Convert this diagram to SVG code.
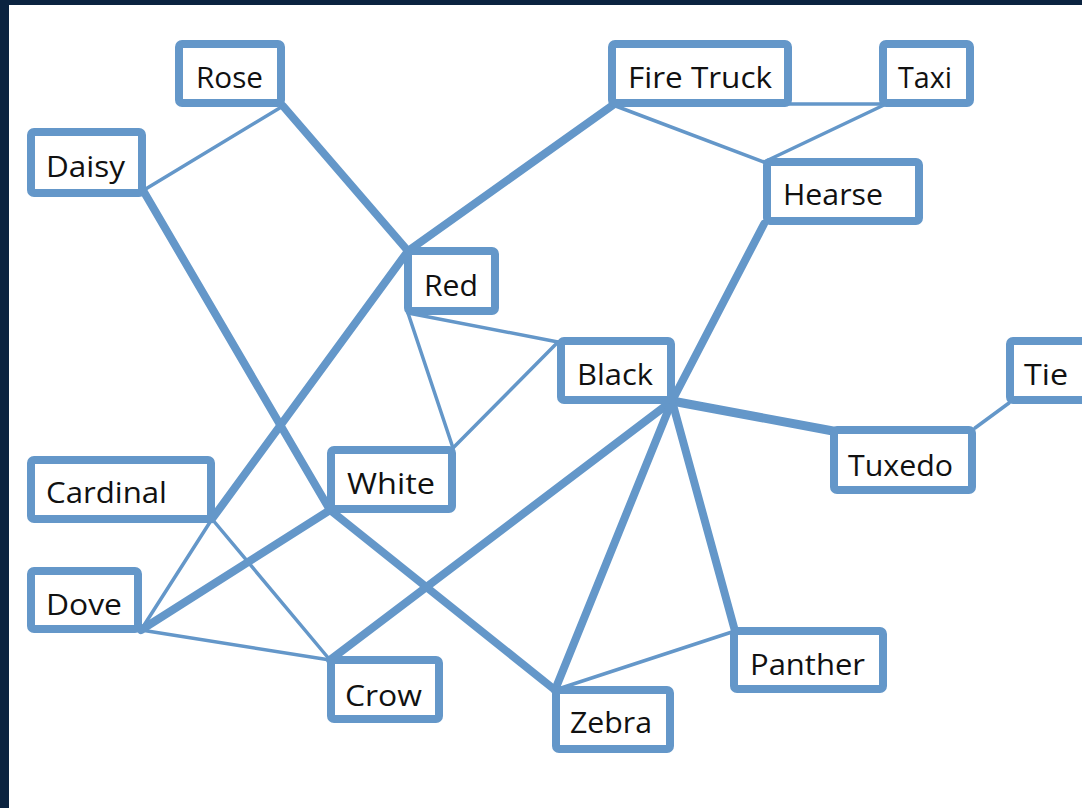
<svg xmlns="http://www.w3.org/2000/svg" width="1082" height="808" viewBox="0 0 1082 808">
<style>
.bg{fill:#0b2340}
.paper{fill:#ffffff}
.e{stroke:#6497c9;fill:none;stroke-linecap:round}
.thin{stroke-width:3.5}
.thick{stroke-width:8}
.box{fill:#ffffff;stroke:#6497c9;stroke-width:8}
.lbl{font-family:"Open Sans","Liberation Sans",sans-serif;font-size:30px;fill:#111111}
</style>
<rect class="bg" x="0" y="0" width="1082" height="808"/>
<rect class="paper" x="9" y="5" width="1073" height="803"/>
<g id="connectors">
<line class="e thin" x1="283" y1="106" x2="144" y2="190"/>
<line class="e thin" x1="613" y1="104" x2="884" y2="104"/>
<line class="e thin" x1="613" y1="105" x2="764" y2="162"/>
<line class="e thin" x1="884" y1="105" x2="764" y2="162"/>
<line class="e thin" x1="408" y1="313" x2="558" y2="342"/>
<line class="e thin" x1="408" y1="313" x2="453" y2="448"/>
<line class="e thin" x1="558" y1="342" x2="453" y2="448"/>
<line class="e thin" x1="212" y1="519" x2="141" y2="630"/>
<line class="e thin" x1="212" y1="519" x2="330" y2="660"/>
<line class="e thin" x1="141" y1="630" x2="330" y2="660"/>
<line class="e thin" x1="975" y1="428" x2="1009" y2="403"/>
<line class="e thin" x1="555" y1="690" x2="735" y2="631"/>
<line class="e thick" x1="283" y1="106" x2="408" y2="251"/>
<line class="e thick" x1="613" y1="105" x2="408" y2="251"/>
<line class="e thick" x1="408" y1="251" x2="212" y2="519"/>
<line class="e thick" x1="144" y1="192" x2="330" y2="510"/>
<line class="e thick" x1="330" y1="510" x2="555" y2="690"/>
<line class="e thick" x1="330" y1="510" x2="141" y2="630"/>
<line class="e thick" x1="330" y1="660" x2="672" y2="401"/>
<line class="e thick" x1="764" y1="224" x2="672" y2="401"/>
<line class="e thick" x1="672" y1="401" x2="833" y2="431" style="stroke-width:9"/>
<line class="e thick" x1="672" y1="401" x2="735" y2="631"/>
<line class="e thick" x1="672" y1="401" x2="555" y2="690"/>
</g>
<g id="rose"><rect class="box" x="179" y="44" width="102" height="59" rx="3"/><text class="lbl" x="196" y="88" textLength="67" lengthAdjust="spacingAndGlyphs">Rose</text></g>
<g id="daisy"><rect class="box" x="31" y="132" width="111" height="61" rx="3"/><text class="lbl" x="46" y="177" textLength="79" lengthAdjust="spacingAndGlyphs">Daisy</text></g>
<g id="firetruck"><rect class="box" x="612" y="44" width="176" height="59" rx="3"/><text class="lbl" x="628" y="88" textLength="144" lengthAdjust="spacingAndGlyphs">Fire Truck</text></g>
<g id="taxi"><rect class="box" x="883" y="44" width="87" height="59" rx="3"/><text class="lbl" x="898" y="88" textLength="54" lengthAdjust="spacingAndGlyphs">Taxi</text></g>
<g id="hearse"><rect class="box" x="767" y="162" width="152" height="59" rx="3"/><text class="lbl" x="783" y="205" textLength="100" lengthAdjust="spacingAndGlyphs">Hearse</text></g>
<g id="red"><rect class="box" x="408" y="251" width="87" height="60" rx="3"/><text class="lbl" x="424" y="296" textLength="54" lengthAdjust="spacingAndGlyphs">Red</text></g>
<g id="black"><rect class="box" x="561" y="341" width="110" height="59" rx="3"/><text class="lbl" x="577" y="385" textLength="76" lengthAdjust="spacingAndGlyphs">Black</text></g>
<g id="tie"><rect class="box" x="1010" y="341" width="90" height="59" rx="3"/><text class="lbl" x="1024" y="385" textLength="44" lengthAdjust="spacingAndGlyphs">Tie</text></g>
<g id="tuxedo"><rect class="box" x="834" y="430" width="138" height="60" rx="3"/><text class="lbl" x="848" y="476" textLength="105" lengthAdjust="spacingAndGlyphs">Tuxedo</text></g>
<g id="cardinal"><rect class="box" x="31" y="460" width="180" height="59" rx="3"/><text class="lbl" x="46" y="503" textLength="121" lengthAdjust="spacingAndGlyphs">Cardinal</text></g>
<g id="white"><rect class="box" x="331" y="450" width="121" height="59" rx="3"/><text class="lbl" x="347" y="494" textLength="88" lengthAdjust="spacingAndGlyphs">White</text></g>
<g id="dove"><rect class="box" x="31" y="571" width="107" height="58" rx="3"/><text class="lbl" x="46" y="615" textLength="76" lengthAdjust="spacingAndGlyphs">Dove</text></g>
<g id="crow"><rect class="box" x="331" y="660" width="108" height="59" rx="3"/><text class="lbl" x="345" y="706" textLength="77" lengthAdjust="spacingAndGlyphs">Crow</text></g>
<g id="panther"><rect class="box" x="734" y="631" width="149" height="58" rx="3"/><text class="lbl" x="750" y="675" textLength="115" lengthAdjust="spacingAndGlyphs">Panther</text></g>
<g id="zebra"><rect class="box" x="556" y="690" width="114" height="59" rx="3"/><text class="lbl" x="570" y="733" textLength="82" lengthAdjust="spacingAndGlyphs">Zebra</text></g>
</svg>
